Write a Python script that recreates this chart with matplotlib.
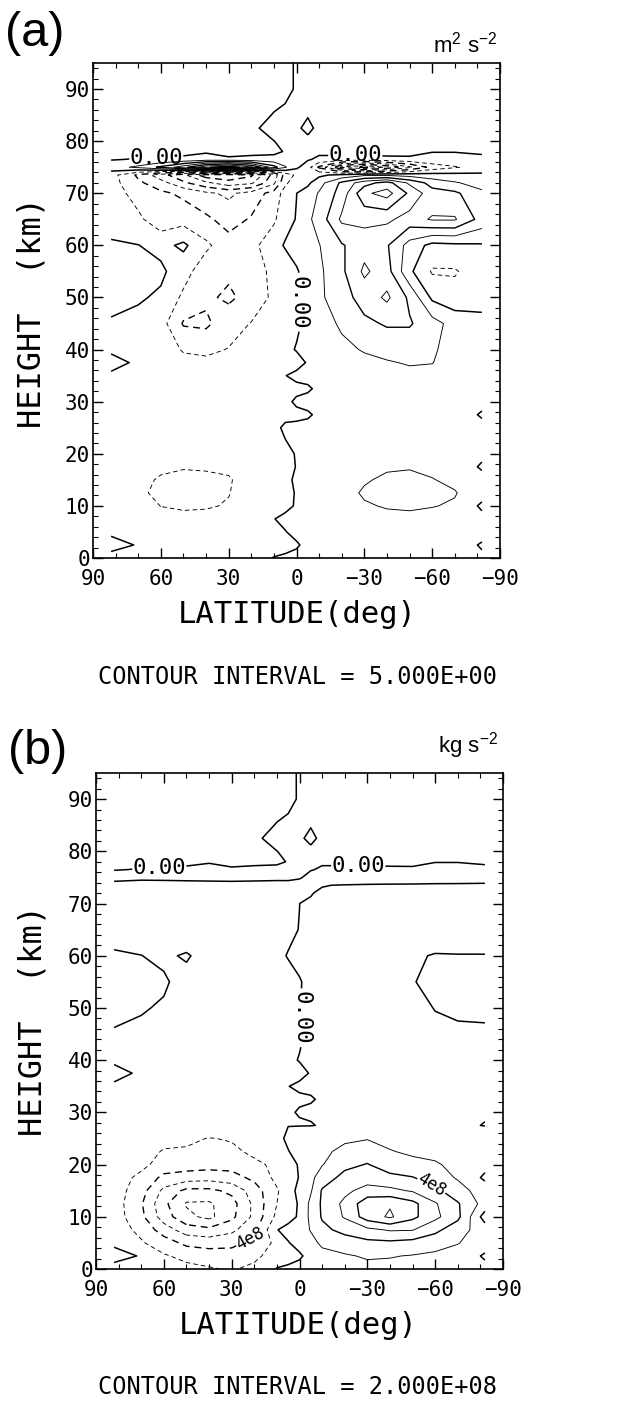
import numpy as np
import matplotlib
matplotlib.use('Agg')
import matplotlib.pyplot as plt

plt.rcParams['font.family'] = ['DejaVu Sans Mono']
plt.rcParams['mathtext.default'] = 'regular'
plt.rcParams['lines.dashed_pattern'] = [5, 3.5]

# model grid: latitude (deg) and height (km)
latitude = [82, 70, 60, 50, 40, 30, 20, 10, 5, 0, -5, -10, -20, -30, -40, -50, -60, -70, -82]
height = [0, 2.5, 5, 7.5, 10, 12.5, 15, 17.5, 20, 22.5, 25, 27.5, 30, 32.5, 35, 37.5,
          40, 45, 50, 55, 60, 65, 70, 72, 73.5, 75, 76.5, 78, 80, 82.5, 85, 90, 95]

# (a) field in m2 s-2, one row per height
flux_a = [
    [-1, -0.5, -1, -1.5, -1.5, -1.5, -1, 0.1, 0.5, 1, 1, 1, 1.5, 2, 2, 2, 1.5, 1, 0.5],
    [1, -0.2, -1.5, -2, -2, -2, -1.5, -1, -1, -0.43, 1, 1.5, 2, 2.5, 2.5, 2.5, 2, 1.5, -0.3],
    [-0.5, -1.5, -2, -2.5, -2.5, -2.5, -2, -1, -0.16, 1, 1.5, 2, 2.5, 3, 3, 3, 2.5, 2, 1],
    [-1, -2, -3, -3.5, -3.5, -3, -1.5, -0.1, 0.9, 1.2, 1.5, 2, 3, 4, 4, 4, 3.5, 3, 1.5],
    [-1, -2.5, -5.1, -5.8, -5.5, -4.6, -2, -1.5, -1, 0.39, 1.5, 2, 3.5, 4.6, 5.3, 5.6, 5.2, 4.5, -0.9],
    [-1, -4.2, -6, -7, -6.5, -5.2, -2.5, -1.5, -1, 0.25, 1.5, 2, 3.5, 5.5, 6.5, 7, 6, 5.3, 2],
    [-1, -3.5, -5.6, -6.5, -6, -5.5, -2.5, -1.5, -1, 0.67, 1.5, 2, 3.5, 4.6, 5.7, 6, 5.2, 4, 1.5],
    [-1, -2.5, -4, -4.6, -4.5, -4, -2, -1.5, -1, 0.11, 1.5, 2, 3, 4, 4.5, 4.7, 4, 3, -0.6],
    [-1, -2, -3, -3.5, -3.5, -3, -2, -1.5, -1, 0.25, 1.5, 2, 2.5, 3, 3.5, 3.5, 3, 2, 1],
    [-0.8, -1.5, -2.5, -3, -3, -2.5, -2, -1.5, -0.11, 1, 1.5, 2, 2.5, 3, 3, 3, 2.5, 2, 1],
    [-0.8, -1.5, -2.5, -3, -3, -2.5, -2, -1, 0.67, 1, 1.5, 2, 2.5, 3, 3, 3, 2.5, 2, 1],
    [-0.8, -1.5, -2.5, -3, -3, -2.5, -2, -1.5, -1, -1, -0.67, 1, 2, 2.5, 3, 3, 2.5, 2, -0.4],
    [-0.8, -1.5, -2.5, -3, -3, -2.5, -2, -1.5, -1, 0.67, 1.5, 2, 2.5, 3, 3, 3, 2.5, 2, 1],
    [-0.8, -1.5, -2.5, -3, -3, -2.5, -2, -1.5, -1, -1, -0.67, 1, 2, 2.5, 3, 3, 2.5, 2, 1],
    [-0.5, -1.5, -2.5, -3, -3, -2.5, -2, -1.5, -0.11, 1, 1.5, 2, 2.5, 3, 3.5, 3.5, 3, 2, 1],
    [1, -0.5, -2, -3.5, -4, -3.5, -2.5, -2, -1.5, -1.5, 0.375, 1.5, 2.5, 3.5, 4.5, 5.5, 5.2, 2, 1],
    [-0.5, -1, -2, -5.5, -6, -4.8, -3, -2, -1, 0.25, 1, 1.5, 3.5, 5.5, 7, 7, 6, 2, 1],
    [-0.5, -1.5, -3, -10.5, -11, -7, -4.8, -3, -1, -0.67, 1, 2, 6, 9, 10.5, 10.5, 7, 3, 1.5],
    [1.5, 0.6, -0.8, -6, -9, -11, -8, -4, -1.5, -0.11, 1, 4, 8, 12, 16, 9, -1, -3, -2],
    [2, 2, 1, -3, -8, -9, -7, -4, -1.5, -0.25, 1, 4, 9, 16, 12, 1, -5.5, -5.5, -2],
    [0.3, 0.1, -1.5, 1, -4, -8, -7, -1, 0.25, 1, 2, 4.8, 9.5, 13, 10.5, 3, -1.5, -1, -0.5],
    [-1, -4, -8, -7, -9, -12, -9.5, -6, -1, 0.14, 4, 7, 16, 16, 16, 13, 15.5, 15.5, 8],
    [-2.5, -7, -9, -11, -14, -16, -13, -8, -3, -0.04, 2, 5.5, 12, 24, 27, 19, 12, 11, 6],
    [-3, -9, -13, -19, -24, -28, -26, -16, -6, -2, -1, 3, 11, 18, 22, 14, 8, 5.5, 3],
    [-3, -11, -18, -24, -33, -34, -31, -18, -8, -4, -3, -1, 1.5, 4, 4, 3, 2, 1.5, 1],
    [3, 6, 11, 18, 29, 34, 26, 12, 5.5, 1, -3, -11, -26, -31, -24, -16, -8, -5.5, -3],
    [-0.3, 0.3, 0.5, 1, 2, 1.5, 1.5, 1.5, 1.5, 1, 0.5, -1, -2, -2, -1.5, -1, -1, -1, -0.5],
    [-1.5, -1.5, -1.5, -1.2, -0.5, -3, -1.5, -1, 0.3, 1, 1, 1, 2, 2, 2, 1.5, 0.1, 0.1, 0.3],
    [-2, -2, -2, -2, -1.5, -1.2, -1, -0.05, 0.8, 1, 0.55, 1, 1.5, 2, 2, 2, 2, 2, 2],
    [-2, -2, -2, -2, -2, -1.5, -0.7, 1.3, 1, 0.4, -0.6, 0.6, 1.5, 2, 2, 2, 2, 2, 2],
    [-2, -2, -2, -2, -2, -2, -1.5, 0.2, 0.8, 1, 0.15, 1, 1.5, 2, 2, 2, 2, 2, 2],
    [-2, -2, -2, -2, -2, -2, -2, -1.5, -1, 0.4, 1, 1.5, 2, 2, 2, 2, 2, 2, 2],
    [-2, -2, -2, -2, -2, -2, -2, -1.5, -1, 0.4, 1, 1.5, 2, 2, 2, 2, 2, 2, 2],
]

# (b) field in units of 1e7 kg s-2, one row per height
flux_b = [
    [-10, -5, -12, -15, -18, -22, -15, 1, 5, 10, 10, 10, 12, 15, 15, 15, 12, 10, 5],
    [10, -2, -18, -25, -30, -32, -25, -10, -10, -4.3, 10, 15, 18, 22, 21, 19, 16, 12, -2.4],
    [-5, -18, -30, -45, -48, -45, -35, -15, -1.6, 10, 15, 23, 30, 35, 36, 33, 28, 21, 8],
    [-10, -25, -50, -70, -75, -65, -45, -1, 9, 12, 21, 35, 46, 55, 62, 61, 45, 28, 10],
    [-10, -35, -70, -95, -105, -85, -55, -15, -10, 3.9, 25, 42, 62, 90, 103, 85, 65, 45, -9],
    [-10, -38, -75, -102, -103, -88, -55, -20, -10, 2.5, 25, 43, 65, 92, 98, 86, 62, 42, 12],
    [-10, -32, -65, -85, -85, -75, -50, -22, -10, 6.7, 18, 42, 55, 68, 65, 58, 45, 28, 10],
    [-10, -25, -45, -50, -52, -48, -35, -15, -10, 1.1, 15, 30, 46, 50, 45, 41, 30, 18, -3.6],
    [-8, -15, -28, -30, -32, -32, -25, -15, -10, 2.5, 12, 19, 35, 41, 30, 25, 22, 15, 6],
    [-5, -10, -22, -23, -25, -25, -15, -10, -1.1, 10, 10, 15, 26, 30, 21, 17, 15, 10, 5],
    [-5, -8, -12, -15, -21, -18, -10, -8, 5.3, 10, 10, 12, 16, 19, 15, 12, 10, 8, 4],
    [-0.4, -0.75, -1.25, -1.5, -1.5, -1.25, -1, -0.75, -0.5, -0.5, -0.335, 0.5, 1, 1.25, 1.5, 1.5, 1.25, 1, -0.2],
    [-0.4, -0.75, -1.25, -1.5, -1.5, -1.25, -1, -0.75, -0.5, 0.335, 0.75, 1, 1.25, 1.5, 1.5, 1.5, 1.25, 1, 0.5],
    [-0.4, -0.75, -1.25, -1.5, -1.5, -1.25, -1, -0.75, -0.5, -0.5, -0.335, 0.5, 1, 1.25, 1.5, 1.5, 1.25, 1, 0.5],
    [-0.25, -0.75, -1.25, -1.5, -1.5, -1.25, -1, -0.75, -0.055, 0.5, 0.75, 1, 1.25, 1.5, 1.75, 1.75, 1.5, 1, 0.5],
    [0.5, -0.25, -1, -1.75, -2, -1.75, -1.25, -1, -0.75, -0.75, 0.19, 0.75, 1.25, 1.75, 2.25, 2.75, 2.6, 1, 0.5],
    [-0.25, -0.5, -1, -2.75, -3, -2.4, -1.5, -1, -0.5, 0.125, 0.5, 0.75, 1.75, 2.75, 3.5, 3.5, 3, 1, 0.5],
    [-0.25, -0.75, -1.5, -5.25, -5.5, -3.5, -2.4, -1.5, -0.5, -0.335, 0.5, 1, 3, 4.5, 5.25, 5.25, 3.5, 1.5, 0.75],
    [0.75, 0.3, -0.4, -3, -4.5, -5.5, -4, -2, -0.75, -0.055, 0.5, 2, 4, 6, 8, 4.5, -0.5, -1.5, -1],
    [1, 1, 0.5, -1.5, -4, -4.5, -3.5, -2, -0.75, -0.125, 0.5, 2, 4.5, 8, 6, 0.5, -2.75, -2.75, -1],
    [0.15, 0.05, -0.75, 0.5, -2, -4, -3.5, -0.5, 0.125, 0.5, 1, 2.4, 4.75, 6.5, 5.25, 1.5, -0.75, -0.5, -0.25],
    [-0.5, -2, -4, -3.5, -4.5, -6, -4.75, -3, -0.5, 0.07, 2, 3.5, 8, 8, 8, 6.5, 7.75, 7.75, 4],
    [-1.25, -3.5, -4.5, -5.5, -7, -8, -6.5, -4, -1.5, -0.02, 1, 2.75, 6, 12, 13.5, 9.5, 6, 5.5, 3],
    [-1.5, -4.5, -6.5, -9.5, -12, -14, -13, -8, -3, -1, -0.5, 1.5, 5.5, 9, 11, 7, 4, 2.75, 1.5],
    [-1.5, -5.5, -9, -12, -16.5, -17, -15.5, -9, -4, -2, -1.5, -0.5, 0.75, 2, 2, 1.5, 1, 0.75, 0.5],
    [1.5, 3, 5.5, 9, 14.5, 17, 13, 6, 2.75, 0.5, -1.5, -5.5, -13, -15.5, -12, -8, -4, -2.75, -1.5],
    [-0.15, 0.15, 0.25, 0.5, 1, 0.75, 0.75, 0.75, 0.75, 0.5, 0.25, -0.5, -1, -1, -0.75, -0.5, -0.5, -0.5, -0.25],
    [-0.75, -0.75, -0.75, -0.6, -0.25, -1.5, -0.75, -0.5, 0.15, 0.5, 0.5, 0.5, 1, 1, 1, 0.75, 0.05, 0.05, 0.15],
    [-1, -1, -1, -1, -0.75, -0.6, -0.5, -0.025, 0.4, 0.5, 0.275, 0.5, 0.75, 1, 1, 1, 1, 1, 1],
    [-1, -1, -1, -1, -1, -0.75, -0.35, 0.65, 0.5, 0.2, -0.3, 0.3, 0.75, 1, 1, 1, 1, 1, 1],
    [-1, -1, -1, -1, -1, -1, -0.75, 0.1, 0.4, 0.5, 0.075, 0.5, 0.75, 1, 1, 1, 1, 1, 1],
    [-1, -1, -1, -1, -1, -1, -1, -0.75, -0.5, 0.2, 0.5, 0.75, 1, 1, 1, 1, 1, 1, 1],
    [-1, -1, -1, -1, -1, -1, -1, -0.75, -0.5, 0.2, 0.5, 0.75, 1, 1, 1, 1, 1, 1, 1],
]

xtick_vals = [90, 60, 30, 0, -30, -60, -90]
xtick_text = ['90', '60', '30', '0', '\u221230', '\u221260', '\u221290']

W, H = 632, 1401


def px(x, y):
    return x / W, 1 - y / H


def contour_set(ax, lon, hgt, z, levels, step):
    styles = ['dashed' if lv < 0 else 'solid' for lv in levels]
    widths = []
    for lv in levels:
        k = int(round(lv / step))
        if k == 0:
            widths.append(1.1)
        elif k % 2 == 0:
            widths.append(1.0)
        else:
            widths.append(0.65)
    return ax.contour(lon, hgt, z, levels=levels, colors='k',
                      linestyles=styles, linewidths=widths)


def draw_panel(ax, field, step, zero_pos, labelled=None):
    lon, hgt = np.meshgrid(latitude, height)
    z = np.array(field, dtype=float)
    kmax = int(np.ceil(np.abs(z).max() / step))
    special = [0] + (labelled[0] if labelled else [])
    levels = [k * step for k in range(-kmax, kmax + 1) if k * step not in special]
    contour_set(ax, lon, hgt, z, levels, step)

    # zero line with its own labels
    cs0 = contour_set(ax, lon, hgt, z, [0], step)
    txt = ax.clabel(cs0, manual=zero_pos, fmt={0: '0.00'},
                    fontsize=16, inline=True, inline_spacing=3)
    for t in txt:
        if abs(t.get_rotation() % 180 - 90) < 30:
            t.set_rotation(270)
        else:
            t.set_rotation(0)

    if labelled:
        lv, pos, rot = labelled
        cs4 = contour_set(ax, lon, hgt, z, lv, step)
        txt4 = ax.clabel(cs4, manual=pos, fmt={l: '4e8' for l in lv},
                         fontsize=12, inline=True, inline_spacing=2)
        for t, r in zip(txt4, rot):
            t.set_rotation(r)

    ax.set_xlim(90, -90)
    ax.set_ylim(0, 95)
    ax.set_xticks(xtick_vals)
    ax.set_xticklabels(xtick_text)
    ax.set_xticks(np.arange(-80, 90, 10), minor=True)
    ax.set_yticks(np.arange(0, 91, 10))
    ax.set_yticks(np.arange(0, 95, 2), minor=True)
    ax.tick_params(which='both', direction='in', top=True, right=True, labelsize=15)
    ax.tick_params(which='major', length=7, width=1)
    ax.tick_params(which='minor', length=3.5, width=0.8)
    ax.tick_params(axis='x', pad=8)
    ax.tick_params(axis='y', pad=2)
    for s in ax.spines.values():
        s.set_linewidth(1.2)


fig = plt.figure(figsize=(W / 100, H / 100), dpi=100)

ax_a = fig.add_axes([93 / W, 1 - 558 / H, 407 / W, 495 / H])
draw_panel(ax_a, flux_a, 5, [(62, 76.9), (-26, 77.0), (0, 49)])

ax_b = fig.add_axes([96 / W, 1 - 1269 / H, 407 / W, 496 / H])
draw_panel(ax_b, flux_b, 20, [(62, 76.9), (-26, 77.0), (0, 48)],
           labelled=([-40, 40], [(22, 6), (-58, 15.5)], [28, -32]))

# panel letters, units, axis titles
fig.text(*px(35, 34), '(a)', fontsize=35, family='Liberation Sans', ha='center', va='center')
fig.text(*px(497, 53), r'm$^{2}$ s$^{-2}$', fontsize=16, family='Liberation Sans',
         ha='right', va='baseline')
fig.text(*px(297, 614), 'LATITUDE(deg)', fontsize=22, ha='center', va='center')
fig.text(*px(32, 312), 'HEIGHT  (km)', fontsize=23, rotation=90, ha='center', va='center')
fig.text(*px(298, 677), 'CONTOUR INTERVAL = 5.000E+00', fontsize=17, ha='center', va='center')

fig.text(*px(38, 751), '(b)', fontsize=35, family='Liberation Sans', ha='center', va='center')
fig.text(*px(498, 753), r'kg s$^{-2}$', fontsize=16, family='Liberation Sans',
         ha='right', va='baseline')
fig.text(*px(298, 1325), 'LATITUDE(deg)', fontsize=22, ha='center', va='center')
fig.text(*px(33, 1021), 'HEIGHT  (km)', fontsize=23, rotation=90, ha='center', va='center')
fig.text(*px(298, 1387), 'CONTOUR INTERVAL = 2.000E+08', fontsize=17, ha='center', va='center')

fig.savefig('out.png', dpi=100)
